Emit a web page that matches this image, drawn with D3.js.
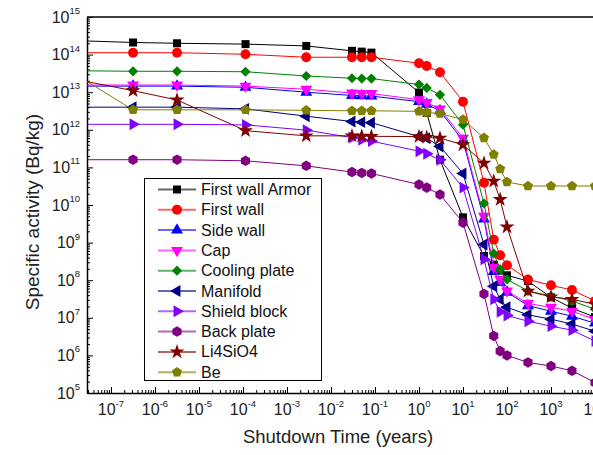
<!DOCTYPE html>
<html>
<head>
<meta charset="utf-8">
<script src="https://cdn.jsdelivr.net/npm/d3@7"></script>
<style>
  body { margin: 0; background: #fff; }
  svg { display: block; font-family: "Liberation Sans", Arial, sans-serif; }
</style>
</head>
<body>
<svg id="chart"></svg>
<script>
// shutdown times in years (first one is the "0" point at the left edge, drawn without marker)
const times = [2.9e-8, 3.17e-7, 3.17e-6, 1.14e-4, 2.74e-3, 0.03, 0.05, 0.083,
  1, 1.5, 3, 10, 30, 50, 70, 100, 300, 1000, 3000, 10000]

const firstWallArmor = [2.3e14, 2.1e14, 2.0e14, 1.9e14, 1.7e14, 1.26e14, 1.2e14, 1.13e14,
  9.8e12, 2.8e12, 1.6e11, 4.7e9, 4.4e8, 2.6e8, 1.8e8, 1.35e8, 9.5e7, 3.5e7, 1.8e7, 1.04e7]
const firstWall = [1.12e14, 1.12e14, 1.12e14, 1.02e14, 8.5e13, 8.5e13, 8.5e13, 8.5e13,
  5.9e13, 5.0e13, 3.4e13, 5.6e12, 3.9e10, 1.2e9, 4.6e8, 2.5e8, 1.05e8, 7.3e7, 5.5e7, 2.8e7]
const sideWall = [1.45e13, 1.45e13, 1.45e13, 1.35e13, 1.0e13, 8.2e12, 8.0e12, 7.9e12,
  5.6e12, 4.8e12, 3.2e12, 5.1e11, 4.2e9, 1.7e8, 8.7e7, 4.8e7, 2.1e7, 1.5e7, 1.1e7, 7.2e6]
const cap = [1.55e13, 1.55e13, 1.55e13, 1.45e13, 1.2e13, 9.5e12, 9.3e12, 9.2e12,
  6.3e12, 5.3e12, 3.6e12, 6.0e11, 5.0e9, 2.2e8, 1.05e8, 5.2e7, 2.4e7, 1.9e7, 1.5e7, 9e6]
const coolingPlate = [3.7e13, 3.6e13, 3.6e13, 3.5e13, 2.7e13, 2.35e13, 2.3e13, 2.3e13,
  1.6e13, 1.3e13, 8.5e12, 1.37e12, 1.1e10, 5.1e8, 1.95e8, 1.05e8, 5.2e7, 3.8e7, 2.8e7, 1.7e7]
const manifold = [4.0e12, 4.0e12, 4.0e12, 3.6e12, 2.3e12, 1.66e12, 1.6e12, 1.55e12,
  6.6e11, 6.0e11, 3.6e11, 6.9e10, 8.9e8, 6.9e7, 3.1e7, 1.9e7, 1.2e7, 9.2e6, 6.8e6, 4.4e6]
const shieldBlock = [1.4e12, 1.4e12, 1.4e12, 1.35e12, 9.8e11, 6.2e11, 5.4e11, 5.0e11,
  2.7e11, 2.3e11, 1.6e11, 2.9e10, 3.6e8, 3.1e7, 1.45e7, 1.15e7, 8.1e6, 6.0e6, 4.7e6, 2.4e6]
const backPlate = [1.6e11, 1.6e11, 1.6e11, 1.5e11, 1.1e11, 7.5e10, 7.1e10, 6.9e10,
  3.5e10, 2.9e10, 1.9e10, 3.4e9, 4.3e7, 3.3e6, 1.3e6, 1.0e6, 6.5e5, 5.2e5, 3.9e5, 1.9e5]
const li4sio4 = [1.9e13, 1.1e13, 6.2e12, 9.5e11, 6.9e11, 6.9e11, 6.8e11, 6.7e11,
  6.6e11, 6.3e11, 6.0e11, 4.0e11, 1.3e11, 4.3e10, 1.4e10, 2.6e9, 5.1e7, 3.6e7, 3.1e7, 2.3e7]
const be = [1.9e13, 3.4e12, 3.4e12, 3.4e12, 3.3e12, 3.2e12, 3.2e12, 3.2e12,
  3.1e12, 2.9e12, 2.7e12, 1.87e12, 6.1e11, 2.2e11, 9.1e10, 4.1e10, 3.2e10, 3.2e10, 3.2e10, 3.2e10]

const names = ['First wall Armor', 'First wall', 'Side wall', 'Cap', 'Cooling plate',
  'Manifold', 'Shield block', 'Back plate', 'Li4SiO4', 'Be']
const values = [firstWallArmor, firstWall, sideWall, cap, coolingPlate,
  manifold, shieldBlock, backPlate, li4sio4, be]
const colors = ['#000000', '#ff0000', '#0000ff', '#ff00ff', '#008000',
  '#000080', '#8000ff', '#800080', '#800000', '#808000']

const xMajor = [1e-7, 1e-6, 1e-5, 1e-4, 1e-3, 1e-2, 1e-1, 1, 10, 100, 1000, 10000]
const yMajor = [1e5, 1e6, 1e7, 1e8, 1e9, 1e10, 1e11, 1e12, 1e13, 1e14, 1e15]

// ---- custom symbols
const diamond = { draw(ctx, size) { let r = Math.sqrt(size / 2)
  ctx.moveTo(0, -r); ctx.lineTo(r, 0); ctx.lineTo(0, r); ctx.lineTo(-r, 0); ctx.closePath() } }
function polygon(n, rot) {
  return { draw(ctx, size) {
    let r = Math.sqrt(size / (n / 2 * Math.sin(2 * Math.PI / n)))
    for (let i = 0; i < n; i++) {
      let a = rot + i * 2 * Math.PI / n
      if (i === 0) ctx.moveTo(r * Math.sin(a), -r * Math.cos(a))
      else ctx.lineTo(r * Math.sin(a), -r * Math.cos(a))
    }
    ctx.closePath()
  } }
}
const symbols = [
  { type: d3.symbolSquare, size: 64, rot: 0 },
  { type: d3.symbolCircle, size: 78, rot: 0 },
  { type: d3.symbolTriangle, size: 62, rot: 0 },
  { type: d3.symbolTriangle, size: 62, rot: 180 },
  { type: diamond, size: 52, rot: 0 },
  { type: d3.symbolTriangle, size: 62, rot: -90 },
  { type: d3.symbolTriangle, size: 62, rot: 90 },
  { type: polygon(6, 0), size: 72, rot: 0 },
  { type: d3.symbolStar, size: 70, rot: 0 },
  { type: polygon(5, 0), size: 66, rot: 0 }
]

let width = 593, height = 455
let plotLeft = 87, plotTop = 17, plotBottom = 393
let xMin = 2.85e-8, xMax = Math.pow(10, 4.6)
let plotRight = plotLeft + 44 * (Math.log10(xMax) - Math.log10(xMin))

let svg = d3.select('#chart').attr('width', width).attr('height', height)

let x = d3.scaleLog().domain([xMin, xMax]).range([plotLeft, plotRight])
let y = d3.scaleLog().domain([1e5, 1e15]).range([plotBottom, plotTop])

svg.append('defs').append('clipPath').attr('id', 'clip')
  .append('rect').attr('x', plotLeft).attr('y', plotTop)
  .attr('width', plotRight - plotLeft).attr('height', plotBottom - plotTop)

// minor ticks
let xMinor = []
for (let e = -8; e <= 4; e++) for (let k = 2; k <= 9; k++) {
  let v = k * Math.pow(10, e)
  if (v > xMin && v < xMax) xMinor.push(v)
}
let yMinor = []
for (let e = 5; e < 15; e++) for (let k = 2; k <= 9; k++) yMinor.push(k * Math.pow(10, e))

let gx = svg.append('g').attr('transform', `translate(0,${plotBottom})`)
gx.call(d3.axisBottom(x).tickValues(xMinor).tickSize(-3).tickSizeOuter(0).tickFormat(''))
gx.append('g').call(d3.axisBottom(x).tickValues(xMajor).tickSize(-6).tickSizeOuter(0).tickFormat(''))
  .select('.domain').remove()

let gy = svg.append('g').attr('transform', `translate(${plotLeft},0)`)
gy.call(d3.axisLeft(y).tickValues(yMinor).tickSize(-3).tickSizeOuter(0).tickFormat(''))
gy.append('g').call(d3.axisLeft(y).tickValues(yMajor).tickSize(-6).tickSizeOuter(0).tickFormat(''))
  .select('.domain').remove()

svg.selectAll('.domain').attr('stroke', '#000').attr('stroke-width', 1.5)
svg.selectAll('.tick line').attr('stroke', '#000').attr('stroke-width', 1)

// top border
svg.append('line').attr('x1', plotLeft).attr('x2', plotRight).attr('y1', plotTop).attr('y2', plotTop)
  .attr('stroke', '#000').attr('stroke-width', 1.5)

// tick labels with superscript exponents
function powLabel(sel) {
  sel.append('tspan').text('10')
  sel.append('tspan').attr('font-size', 9.5).attr('dy', -8.5)
    .text(d => Math.round(Math.log10(d)))
}
svg.append('g').selectAll('text').data(xMajor).enter().append('text')
  .attr('x', d => x(d)).attr('y', plotBottom + 22).attr('text-anchor', 'middle')
  .attr('font-size', 16).attr('fill', '#222').call(powLabel)
svg.append('g').selectAll('text').data(yMajor).enter().append('text')
  .attr('x', plotLeft - 7).attr('y', d => y(d) + 5.5).attr('text-anchor', 'end')
  .attr('font-size', 16).attr('fill', '#222').call(powLabel)

// axis titles
svg.append('text').attr('x', 338).attr('y', 443).attr('text-anchor', 'middle')
  .attr('font-size', 18.5).attr('fill', '#222').text('Shutdown Time (years)')
svg.append('text').attr('transform', 'translate(39,212) rotate(-90)').attr('text-anchor', 'middle')
  .attr('font-size', 19).attr('fill', '#222').text('Specific activity (Bq/kg)')

// series
let line = d3.line().x(d => x(d.t)).y(d => y(d.v))
let plot = svg.append('g')
values.forEach((vals, i) => {
  let pts = times.map((t, j) => ({ t: t, v: vals[j] }))
  let g = plot.append('g')
  g.append('path').datum(pts).attr('d', line).attr('fill', 'none')
    .attr('stroke', colors[i]).attr('stroke-width', 1).attr('clip-path', 'url(#clip)')
  let sym = d3.symbol().type(symbols[i].type).size(symbols[i].size)
  g.selectAll('path.m').data(pts.slice(1)).enter().append('path').attr('class', 'm')
    .attr('d', sym)
    .attr('transform', d => `translate(${x(d.t)},${y(d.v)}) rotate(${symbols[i].rot})`)
    .attr('fill', colors[i])
})

// legend
let lg = svg.append('g')
lg.append('rect').attr('x', 144.5).attr('y', 178.5).attr('width', 177).attr('height', 202)
  .attr('fill', '#fff').attr('stroke', '#000').attr('stroke-width', 1)
names.forEach((name, i) => {
  let yy = 189.5 + i * 20.3
  lg.append('line').attr('x1', 158).attr('x2', 196).attr('y1', yy).attr('y2', yy)
    .attr('stroke', colors[i]).attr('stroke-width', 2).attr('stroke-opacity', 0.6)
  lg.append('path').attr('d', d3.symbol().type(symbols[i].type).size(symbols[i].size))
    .attr('transform', `translate(177,${yy}) rotate(${symbols[i].rot})`).attr('fill', colors[i])
  lg.append('text').attr('x', 201).attr('y', yy + 5.5).attr('font-size', 16).attr('fill', '#111').text(name)
})
</script>
</body>
</html>
